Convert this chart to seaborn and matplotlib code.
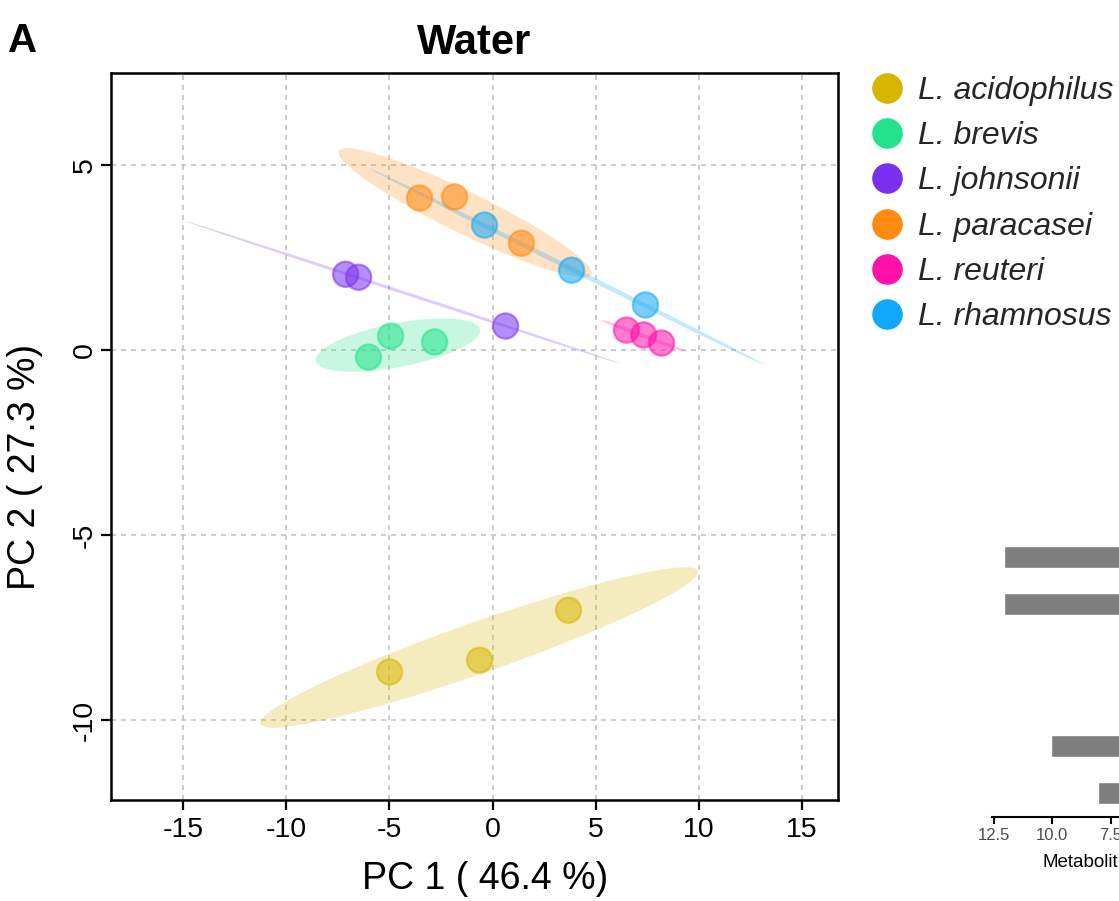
import numpy as np
import pandas as pd
import matplotlib
matplotlib.use("Agg")
import matplotlib.pyplot as plt
from matplotlib.patches import Ellipse
from matplotlib.lines import Line2D
import seaborn as sns

# ---------------- data ----------------
species = ["L. acidophilus", "L. brevis", "L. johnsonii",
           "L. paracasei", "L. reuteri", "L. rhamnosus"]
colors = ["#D6B600", "#22E38A", "#7B30F0", "#FF8A10", "#FF10A8", "#10A8F8"]

pc1_acidophilus = [-4.99, -0.63, 3.68]
pc2_acidophilus = [-8.70, -8.38, -7.03]
pc1_brevis = [-6.01, -4.94, -2.81]
pc2_brevis = [-0.19, 0.38, 0.22]
pc1_johnsonii = [-7.12, -6.49, 0.63]
pc2_johnsonii = [2.05, 1.97, 0.65]
pc1_paracasei = [-3.54, -1.84, 1.40]
pc2_paracasei = [4.11, 4.14, 2.89]
pc1_reuteri = [6.49, 7.32, 8.19]
pc2_reuteri = [0.54, 0.41, 0.19]
pc1_rhamnosus = [-0.39, 3.83, 7.41]
pc2_rhamnosus = [3.38, 2.16, 1.22]

pc1 = [pc1_acidophilus, pc1_brevis, pc1_johnsonii, pc1_paracasei, pc1_reuteri, pc1_rhamnosus]
pc2 = [pc2_acidophilus, pc2_brevis, pc2_johnsonii, pc2_paracasei, pc2_reuteri, pc2_rhamnosus]

x_ticks = [-15, -10, -5, 0, 5, 10, 15]
y_ticks = [-10, -5, 0, 5]

# partial bar panel (right, cropped in the reference)
bar_cats = ["m1", "m2", "m3", "m4", "m5", "m6"]
bar_vals = [12.07, 12.07, np.nan, np.nan, 10.05, 8.05]
bar_ticks = [12.5, 10.0, 7.5]
bar_tick_labels = ["12.5", "10.0", "7.5"]

rows = []
for sp, xs, ys in zip(species, pc1, pc2):
    for a, b in zip(xs, ys):
        rows.append({"species": sp, "PC1": a, "PC2": b})
df = pd.DataFrame(rows)

# ---------------- figure ----------------
sns.set_theme(style="white")
plt.rcParams["font.family"] = ["Liberation Sans", "DejaVu Sans"]
plt.rcParams["axes.unicode_minus"] = False

fig = plt.figure(figsize=(11.19, 9.01), dpi=100)
ax = fig.add_axes([111/1119, 1-800/901, (838-111)/1119, (800-73)/901])

ax.set_xlim(-18.49, 16.74)
ax.set_ylim(-12.16, 7.49)
ax.set_xticks(x_ticks)
ax.set_yticks(y_ticks)
ax.grid(True, color="#C4C4C4", linestyle=(0, (3, 3)), linewidth=1.2)
ax.set_axisbelow(True)

# 95% data ellipses
chi = np.sqrt(5.991)
for sp, col, xs, ys in zip(species, colors, pc1, pc2):
    pts = np.column_stack([xs, ys])
    mu = pts.mean(axis=0)
    cov = np.cov(pts.T)
    vals, vecs = np.linalg.eigh(cov)
    order = vals.argsort()[::-1]
    vals, vecs = vals[order], vecs[:, order]
    ang = np.degrees(np.arctan2(vecs[1, 0], vecs[0, 0]))
    w = 2 * chi * np.sqrt(max(vals[0], 0))
    h = 2 * chi * np.sqrt(max(vals[1], 0))
    ax.add_patch(Ellipse(mu, w, max(h, 0.05), angle=ang, facecolor=col,
                         alpha=0.25, edgecolor="none", zorder=1))

palette = dict(zip(species, colors))
sns.scatterplot(data=df, x="PC1", y="PC2", hue="species", palette=palette,
                s=330, alpha=0.55, linewidth=1.6, legend=False, ax=ax, zorder=3)
for coll in ax.collections:
    fc = coll.get_facecolors()
    if len(fc):
        ec = fc.copy()
        ec[:, 3] = 0.85
        coll.set_edgecolors(ec)

for s in ax.spines.values():
    s.set_color("black")
    s.set_linewidth(1.8)
ax.tick_params(axis="both", which="major", direction="out", length=7.5, width=1.6,
               color="black", labelsize=20.5, labelcolor="black", pad=5,
               bottom=True, left=True)
ax.tick_params(axis="y", pad=2)
for lab in ax.get_yticklabels():
    lab.set_rotation(90)
    lab.set_va("center")
ax.set_xlabel("PC 1 ( 46.4 %)", fontsize=27, color="black")
ax.xaxis.set_label_coords(0.514, -0.084)
ax.set_ylabel("PC 2 ( 27.3 %)", fontsize=27, color="black")
ax.yaxis.set_label_coords(-0.093, 0.458)
ax.set_title("Water", fontsize=30, fontweight="bold", pad=14, color="black")
fig.text(8/1119, 1-52/901, "A", fontsize=29, fontweight="bold", color="black")

handles = [Line2D([0], [0], marker="o", linestyle="none", markersize=21,
                  markerfacecolor=c, markeredgecolor=c) for c in colors]
leg = fig.legend(handles, species, loc="upper left",
                 bbox_to_anchor=(857/1119, 1-63/901), frameon=False,
                 fontsize=23, handletextpad=0.4, labelspacing=0.48,
                 borderaxespad=0, handlelength=1.1)
for t in leg.get_texts():
    t.set_fontstyle("italic")

# ---------------- partial bar panel ----------------
bx = fig.add_axes([992/1119, 1-817/901, (1285.5-992)/1119, (817-533)/901])
bdf = pd.DataFrame({"cat": bar_cats, "val": bar_vals})
sns.barplot(data=bdf, x="val", y="cat", orient="h", color="#7F7F7F",
            width=0.47, ax=bx, saturation=1)
bx.set_xlim(12.58, 0)
bx.set_ylim(5.51, -0.5)
bx.set_xticks(bar_ticks)
bx.set_xticklabels(bar_tick_labels)
bx.tick_params(axis="x", direction="out", length=5, width=1.5, color="black",
               labelsize=12, labelcolor="#4D4D4D", pad=3, bottom=True)
bx.tick_params(axis="y", left=False, labelleft=False)
bx.set_ylabel("")
bx.set_xlabel("")
for k in ["top", "left", "right"]:
    bx.spines[k].set_visible(False)
bx.spines["bottom"].set_color("black")
bx.spines["bottom"].set_linewidth(1.5)
bx.patch.set_alpha(0)
fig.text(1042/1119, 1-867/901, "Metabolit", fontsize=13.5, color="black")

fig.savefig("out.png", dpi=100)
